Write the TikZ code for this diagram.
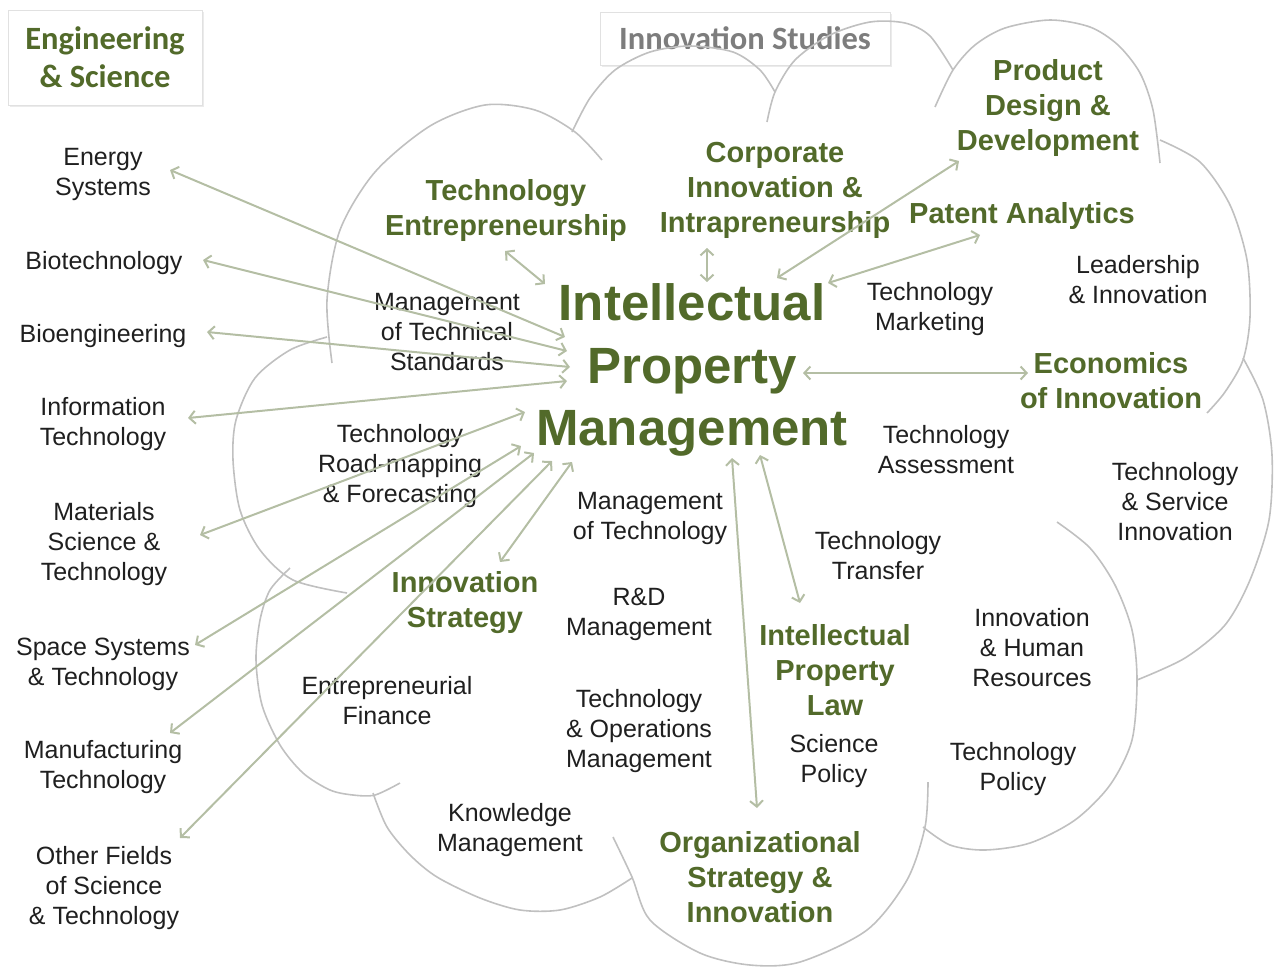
\documentclass[tikz,border=0pt]{standalone}
\usepackage{fontspec}
\setmainfont{Liberation Sans}
\newfontfamily\calibrifont{Carlito}
\usetikzlibrary{arrows.meta}
\definecolor{igreen}{RGB}{82,106,42}
\definecolor{arrowc}{RGB}{180,190,164}
\definecolor{cloudc}{RGB}{192,192,192}
\definecolor{studiesc}{RGB}{125,125,125}
\definecolor{boxc}{RGB}{225,225,225}
\begin{document}
\begin{tikzpicture}[x=1pt,y=-1pt,
  plain/.style={align=center, font=\fontsize{25}{30}\selectfont, text=black!88, inner sep=0pt, yshift=-3pt},
  topic/.style={align=center, font=\fontsize{29}{35}\selectfont\bfseries, text=igreen, inner sep=0pt, yshift=-3pt},
  hub/.style={align=center, font=\fontsize{51}{62.5}\selectfont\bfseries, text=igreen, inner sep=0pt, yshift=-4pt},
  header/.style={draw=boxc, line width=1pt, fill=white, align=center, inner sep=0pt, font=\calibrifont\bfseries},
  link/.style={draw=arrowc, line width=2pt, {Straight Barb[length=6pt,width=13pt]}-{Straight Barb[length=6pt,width=13pt]}},
  cloudline/.style={draw=cloudc, line width=1.6pt},
]
\useasboundingbox (0,0) rectangle (1276,970);

% header boxes
\fill[black!8] (10,12) rectangle (204,107);
\node[header, minimum width=194pt, minimum height=95pt, text=igreen,
      font=\calibrifont\bfseries\fontsize{32.5}{38}\selectfont] (eng) at (105,57.5) {Engineering\\\& Science};
\fill[black!8] (602,14) rectangle (892,67);
\node[header, minimum width=290pt, minimum height=53pt, text=studiesc,
      font=\calibrifont\bfseries\fontsize{32.5}{38}\selectfont] (studies) at (745,38.5) {Innovation Studies};

% cloud outline
\draw[cloudline] plot[smooth] coordinates {(332,363) (327,300) (340,230) (375,172) (430,126) (485,105) (535,110) (575,132) (602,160)};
\draw[cloudline] plot[smooth] coordinates {(572,132) (590,98) (615,70) (650,52) (690,46) (733,52) (760,70) (775,92)};
\draw[cloudline] plot[smooth] coordinates {(767,122) (775,92) (795,60) (830,35) (870,22) (905,23) (930,36) (953,70)};
\draw[cloudline] plot[smooth] coordinates {(935,107) (953,70) (975,45) (1005,28) (1050,20) (1090,27) (1118,45) (1140,73) (1153,110) (1160,163)};
\draw[cloudline] plot[smooth] coordinates {(1160,140) (1200,162) (1230,205) (1247,260) (1250,317) (1243,360) (1225,392) (1207,413)};
\draw[cloudline] plot[smooth] coordinates {(1243,358) (1263,400) (1272,455) (1269,520) (1250,580) (1225,625) (1185,658) (1137,680)};
\draw[cloudline] plot[smooth] coordinates {(1057,522) (1090,548) (1115,585) (1132,630) (1137,680) (1132,740) (1110,785) (1075,820) (1030,843) (985,850) (950,845) (923,827)};
\draw[cloudline] plot[smooth] coordinates {(928,782) (925,827) (907,880) (867,930) (800,962) (750,965) (700,953) (650,920) (632,877) (613,837)};
\draw[cloudline] plot[smooth] coordinates {(373,793) (387,827) (410,855) (437,877) (480,898) (520,910) (560,910) (600,897) (632,878)};
\draw[cloudline] plot[smooth] coordinates {(290,568) (270,590) (260,620) (256,660) (262,705) (280,745) (303,773) (330,790) (353,795) (375,795) (400,783)};
\draw[cloudline] plot[smooth] coordinates {(327,337) (290,350) (255,378) (236,420) (233,460) (240,510) (260,550) (293,580) (347,593)};

% left column
\node[plain] (energy) at (103,171) {Energy\\Systems};
\node[plain] (biotech) at (104,260) {Biotechnology};
\node[plain] (bioeng) at (103,333) {Bioengineering};
\node[plain] (infotech) at (103,421) {Information\\Technology};
\node[plain] (materials) at (104,541) {Materials\\Science \&\\Technology};
\node[plain] (space) at (103,661) {Space Systems\\\& Technology};
\node[plain] (manuf) at (103,764) {Manufacturing\\Technology};
\node[plain] (other) at (104,885) {Other Fields\\of Science\\\& Technology};

% inner plain topics
\node[plain] (mts) at (447,329) {Management\\of Technical\\Standards};
\node[plain] (trf) at (400,463) {Technology\\Road-mapping\\\& Forecasting};
\node[plain] (mot) at (650,515) {Management\\of Technology};
\node[plain] (rdm) at (639,611) {R\&D\\Management};
\node[plain] (ef) at (387,698) {Entrepreneurial\\Finance};
\node[plain] (tom) at (639,728) {Technology\\\& Operations\\Management};
\node[plain] (km) at (510,827) {Knowledge\\Management};
\node[plain] (tm) at (930,306) {Technology\\Marketing};
\node[plain] (li) at (1138,277) {Leadership\\\& Innovation};
\node[plain] (ta) at (946,447) {Technology\\Assessment};
\node[plain] (tsi) at (1175,499) {Technology\\\& Service\\Innovation};
\node[plain] (tt) at (878,553) {Technology\\Transfer};
\node[plain] (ihr) at (1032,645) {Innovation\\\& Human\\Resources};
\node[plain] (sp) at (834,758) {Science\\Policy};
\node[plain] (tp) at (1013,766) {Technology\\Policy};

% green topics
\node[topic] (te) at (506,207) {Technology\\Entrepreneurship};
\node[topic] (cii) at (775,187) {Corporate\\Innovation \&\\Intrapreneurship};
\node[topic] (pdd) at (1048,105) {Product\\Design \&\\Development};
\node[topic] (pa) at (1022,213) {Patent Analytics};
\node[topic] (eoi) at (1111,378) {Economics\\of Innovation};
\node[topic] (ins) at (465,600) {Innovation\\Strategy};
\node[topic] (ipl) at (835,667) {Intellectual\\Property\\Law};
\node[topic] (osi) at (760,874) {Organizational\\Strategy \&\\Innovation};

% hub
\node[hub] (ipm) at (692,366) {Intellectual\\Property\\Management};

% connector end points
\coordinate (energy-e) at (170,170);   \coordinate (ipm-energy) at (565,337);
\coordinate (biotech-e) at (203,260);  \coordinate (ipm-biotech) at (567,351);
\coordinate (bioeng-e) at (207,332);   \coordinate (ipm-bioeng) at (570,367);
\coordinate (infotech-e) at (188,418); \coordinate (ipm-infotech) at (567,381);
\coordinate (materials-e) at (200,535);\coordinate (ipm-materials) at (525,412);
\coordinate (space-e) at (195,645);    \coordinate (ipm-space) at (521,446);
\coordinate (manuf-e) at (170,733);    \coordinate (ipm-manuf) at (534,453);
\coordinate (other-e) at (180,838);    \coordinate (ipm-other) at (552,461);
\coordinate (ins-e) at (500,562);      \coordinate (ipm-ins) at (572,462);
\coordinate (te-e) at (505,251);       \coordinate (ipm-te) at (545,284);
\coordinate (cii-e) at (707,248);      \coordinate (ipm-cii) at (707,282);
\coordinate (pdd-e) at (959,161);      \coordinate (ipm-pdd) at (777,278);
\coordinate (pa-e) at (980,235);       \coordinate (ipm-pa) at (828,283);
\coordinate (eoi-e) at (1028,373);     \coordinate (ipm-eoi) at (803,373);
\coordinate (osi-e) at (757,808);      \coordinate (ipm-osi) at (732,458);
\coordinate (ipl-e) at (800,603);      \coordinate (ipm-ipl) at (760,455);

% connectors
\foreach \n in {energy,biotech,bioeng,infotech,materials,space,manuf,other,ins,te,cii,pdd,pa,eoi,osi,ipl}
  \draw[link] (\n-e) -- (ipm-\n);

\end{tikzpicture}
\end{document}
